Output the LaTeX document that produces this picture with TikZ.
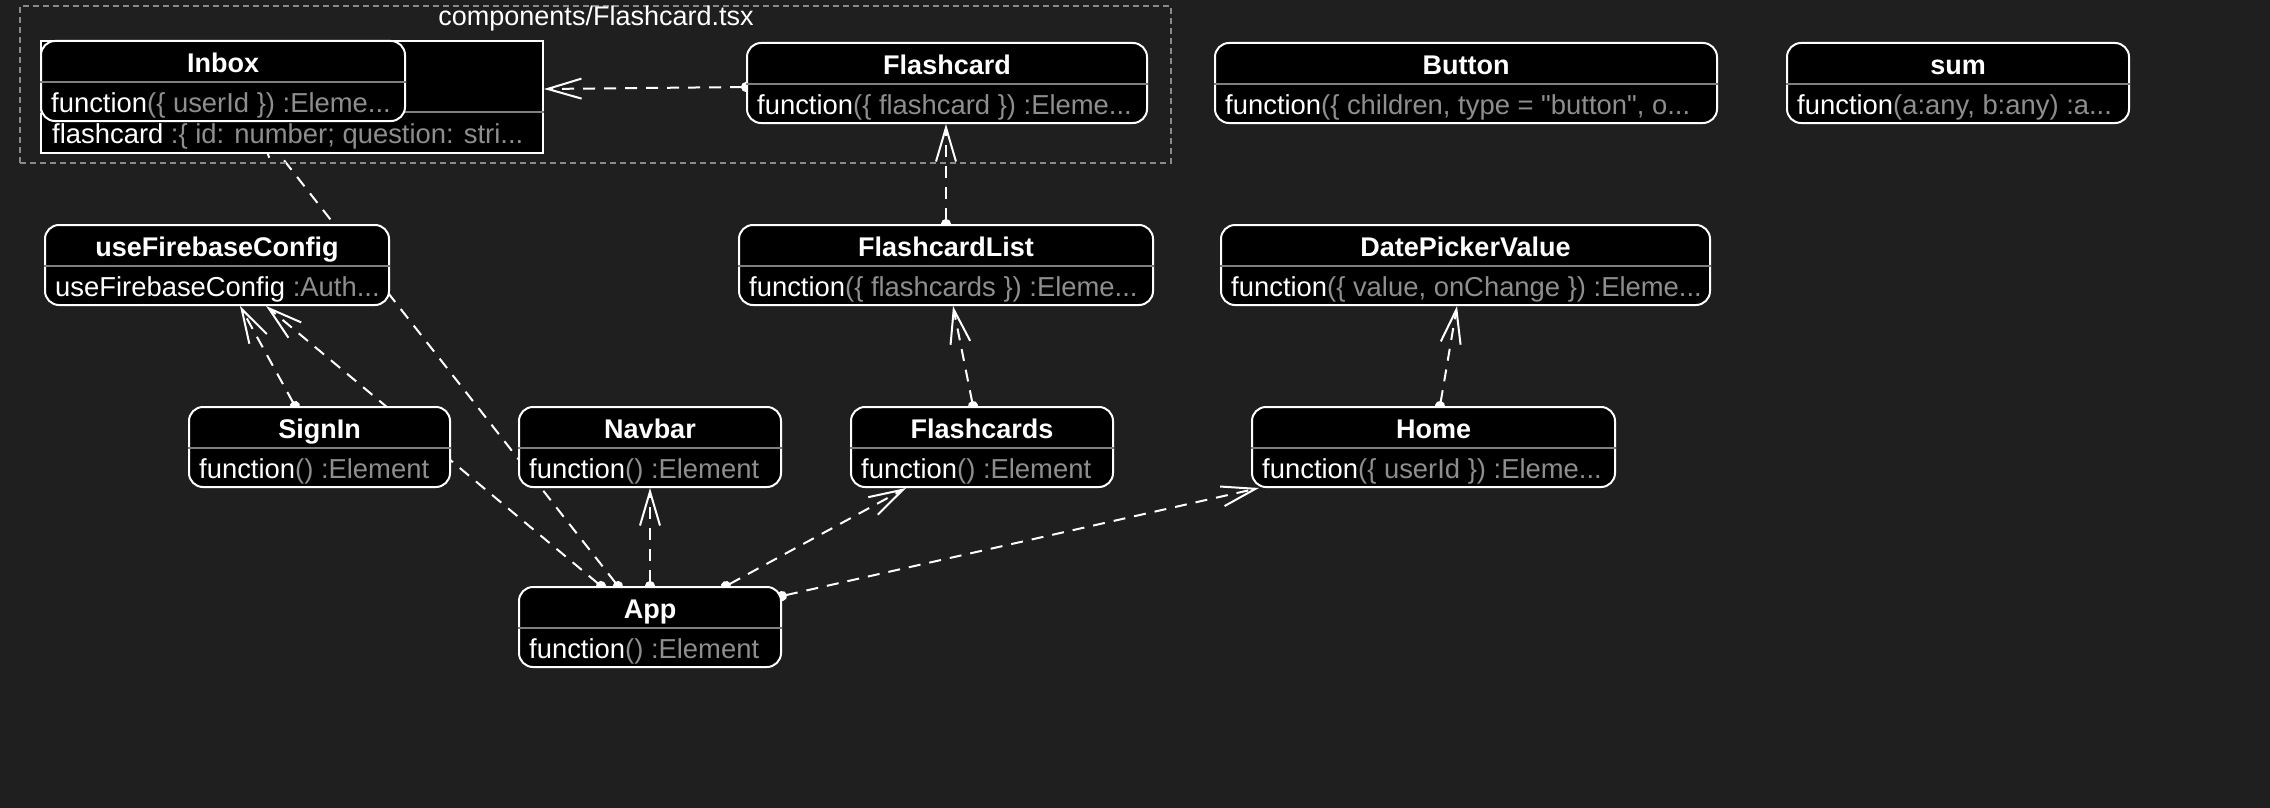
\documentclass[tikz,border=0pt]{standalone}
\usepackage{fontspec}
\newfontfamily\libfont{Liberation Sans}
\usetikzlibrary{arrows.meta,fit,calc}
\definecolor{bgc}{HTML}{1F1F1F}
\definecolor{gtext}{HTML}{8E8E8E}
\definecolor{sepc}{HTML}{7F7F7F}
\definecolor{clus}{HTML}{8A8A8A}
\pgfdeclarelayer{back}
\pgfdeclarelayer{bg}
\pgfsetlayers{back,bg,main}
\tikzset{
  ubox/.style={inner sep=0pt, draw=white, line width=2pt, fill=black, rounded corners=14pt},
  vbox/.style={inner sep=0pt, draw=white, line width=2pt, fill=black},
  usep/.style={draw=sepc, line width=2pt},
  utitle/.style={inner sep=0pt, text=white, font=\libfont\fontsize{27}{32}\selectfont\bfseries},
  ubody/.style={inner sep=0pt, text=white, font=\libfont\fontsize{27.4}{32}\selectfont},
  conn/.style={draw=white, line width=2pt, dash pattern=on 12pt off 9pt,
    {Circle[length=10pt]}-{Straight Barb[length=34pt,width=20pt,line width=2pt]}, shorten <=-5pt},
  cluster/.style={draw=clus, line width=1.5pt, dash pattern=on 6pt off 4pt},
  clabel/.style={inner sep=0pt, text=white, font=\libfont\fontsize{27}{32}\selectfont}
}
\newcommand\umlbox[7]{%
  \node[ubox, fit={(#2,#3) (#4,#5)}] (#1) {};
  \draw[usep] ([yshift=-42pt]#1.north west) -- ([yshift=-42pt]#1.north east);
  \node[utitle, anchor=base] (#1-t) at ([yshift=-32.5pt]#1.north) {#6};
  \node[ubody, anchor=base west] (#1-b) at ([xshift=11pt,yshift=-72pt]#1.north west) {#7};
}
\newcommand\gr[1]{{\color{gtext}\relax#1}}
\begin{document}
\begin{tikzpicture}[x=1pt,y=-1pt]
\useasboundingbox (0,0) rectangle (2270,808);
\begin{pgfonlayer}{back}
  \fill[bgc] (0,0) rectangle (2270,808);
\end{pgfonlayer}

% cluster
\node[cluster, inner sep=0pt, fit={(20,6) (1171,163)}] (clus) {};
\node[clabel, anchor=base] (clusl) at (596,26) {components/Flashcard.tsx};

% variable node behind Inbox
\node[vbox, fit={(41,41) (543,153)}] (inboxvar) {};
\draw[usep] ([yshift=-72pt]inboxvar.north west) -- ([yshift=-72pt]inboxvar.north east);
\node[ubody, anchor=base west] (inboxvar-b) at (52,143) {flashcard\gr{ :\{ id: number; question: stri...}};

\umlbox{inbox}{41}{41}{405}{121}{Inbox}{function\gr{(\{ userId \}) :Eleme...}}
\umlbox{flashcard}{747}{43}{1147}{123}{Flashcard}{function\gr{(\{ flashcard \}) :Eleme...}}
\umlbox{button}{1215}{43}{1717}{123}{Button}{function\gr{(\{ children, type = "button", o...}}
\umlbox{sum}{1787}{43}{2129}{123}{sum}{function\gr{(a:any, b:any) :a...}}
\umlbox{usefb}{45}{225}{389}{305}{useFirebaseConfig}{useFirebaseConfig\gr{ :Auth...}}
\umlbox{flashcardlist}{739}{225}{1153}{305}{FlashcardList}{function\gr{(\{ flashcards \}) :Eleme...}}
\umlbox{datepicker}{1221}{225}{1710}{305}{DatePickerValue}{function\gr{(\{ value, onChange \}) :Eleme...}}
\umlbox{signin}{189}{407}{450}{487}{SignIn}{function\gr{() :Element}}
\umlbox{navbar}{519}{407}{781}{487}{Navbar}{function\gr{() :Element}}
\umlbox{flashcards}{851}{407}{1113}{487}{Flashcards}{function\gr{() :Element}}
\umlbox{home}{1252}{407}{1615}{487}{Home}{function\gr{(\{ userId \}) :Eleme...}}
\umlbox{app}{519}{587}{781}{667}{App}{function\gr{() :Element}}

\begin{pgfonlayer}{bg}
  \draw[conn] ($(flashcard.north west)+(0,45)$) -- ($(inboxvar.north east)+(0,49)$);
  \draw[conn] (flashcardlist.north) -- (flashcardlist.north |- flashcard.south);
  \draw[conn] ($(signin.north west)+(107,0)$) -- ($(usefb.south west)+(196,0)$);
  \draw[conn] ($(app.north west)+(83,0)$) -- ($(usefb.south west)+(222,0)$);
  \draw[conn] ($(app.north west)+(100,0)$) -- ($(inbox.south west)+(214,0)$);
  \draw[conn] (app.north) -- (navbar.south);
  \draw[conn] ($(app.north west)+(208,0)$) -- ($(flashcards.south west)+(56,0)$);
  \draw[conn] ($(app.north east)+(0,10)$) -- ($(home.south west)+(8,0)$);
  \draw[conn] ($(flashcards.north west)+(123,0)$) -- ($(flashcardlist.south west)+(215,0)$);
  \draw[conn] ($(home.north west)+(189,0)$) -- ($(datepicker.south west)+(237,0)$);
\end{pgfonlayer}
\end{tikzpicture}
\end{document}
